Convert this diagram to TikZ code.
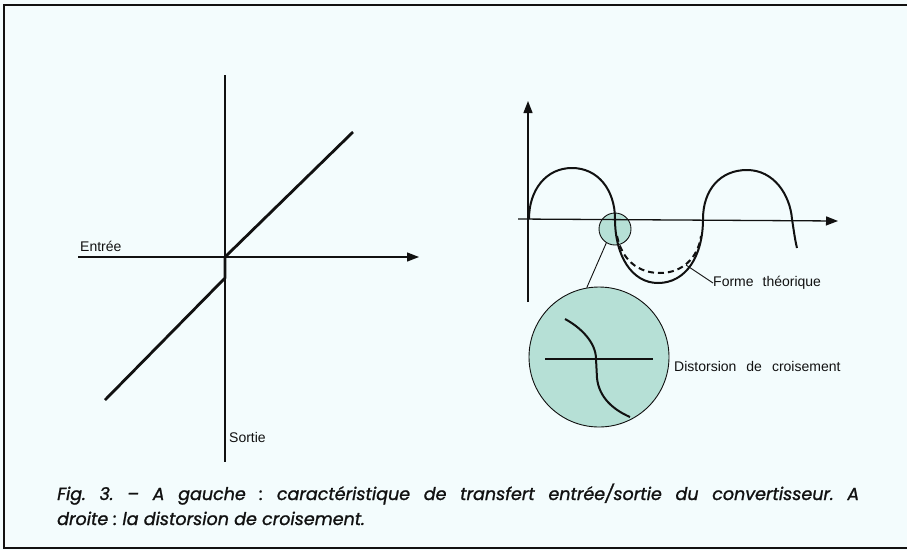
\documentclass[tikz,border=0pt]{standalone}
\usepackage{fontspec}
\setmainfont{Liberation Sans}
\newfontfamily\capfont[FakeBold=1.2]{Poppins}
\usetikzlibrary{arrows.meta}
\definecolor{bg}{HTML}{F3FCFD}
\definecolor{lens}{HTML}{B6E0D6}
\definecolor{ink}{HTML}{111111}
\frenchspacing
\begin{document}
\begin{tikzpicture}[x=1pt,y=-1pt,
  axis/.style={line width=1.3pt, draw=ink},
  arr/.style={-{Triangle[length=12pt,width=9pt]}},
  heavy/.style={line width=2.8pt, draw=ink, line join=round},
  wave/.style={line width=2pt, draw=ink},
  thin/.style={line width=0.9pt, draw=ink},
  lab/.style={font=\fontsize{14}{16}\selectfont, inner sep=0pt, text=ink},
  lensnode/.style={circle, draw=ink, fill=lens, line width=0.9pt, inner sep=0pt},
  capt/.style={font=\capfont\itshape\fontsize{17.5}{21}\selectfont, inner sep=0pt, anchor=base west, text=ink}
]
\fill[bg] (0,0) rectangle (907,550);
\useasboundingbox (0,0) rectangle (907,550);
% frame
\draw[line width=2pt, draw=ink] (907,5) -- (4,5) -- (4,548) -- (907,548);

% ---------- left diagram ----------
\coordinate (vtop) at (225,75);
\coordinate (vbot) at (225,462);
\coordinate (hl) at (78,257);
\coordinate (hr) at (419,257);
\draw[axis, line width=1.1pt] (vtop) -- (vbot);
\draw[axis, arr] (hl) -- (hr);
\coordinate (t1) at (105,400);
\coordinate (t2) at (225,278);
\coordinate (t3) at (225,257);
\coordinate (t4) at (353,132);
\draw[heavy] (t1) -- (t2) -- (t3) -- (t4);
\node[lab, anchor=base west] (entree) at (80,251) {Entrée};
\node[lab, anchor=base west] (sortie) at (229,442) {Sortie};

% ---------- right diagram ----------
\node[lensnode, minimum size=32pt] (spot) at (615,229) {};
\node[lensnode, minimum size=140pt] (mag) at (599,357) {};
\draw[thin] (spot.238) -- (mag.100);

\coordinate (ybot) at (528,302);
\coordinate (ytop) at (528,101);
\coordinate (xl) at (518,219);
\coordinate (xr) at (838,221);
\draw[axis, arr] (ybot) -- (ytop);
\draw[axis, arr] (xl) -- (xr);

% actual waveform
\draw[wave] (529,219) .. controls (529,190) and (546,168) .. (572,168)
  .. controls (598,168) and (615,190) .. (615,219)
  .. controls (615,256) and (632,283) .. (658,283)
  .. controls (686,283) and (703,256) .. (703,219)
  .. controls (703,190) and (720,170) .. (747,170)
  .. controls (774,170) and (790,195) .. (792,219)
  .. controls (794,232) and (795,240) .. (797,248);
% theoretical form
\draw[wave, dash pattern=on 6pt off 4pt] (617,236) .. controls (622,260) and (638,273) .. (660,273)
  .. controls (682,273) and (698,258) .. (701,236);

\node[lab, anchor=west] (forme) at (713,283) {Forme\hspace{9pt}théorique};
\coordinate (fpt) at (686,265);
\draw[thin] (forme.west) -- (fpt);

% magnified detail
\coordinate (ml) at (545,359);
\coordinate (mr) at (653,359);
\draw[thin, line width=1.3pt] (ml) -- (mr);
\draw[wave] (565,319) .. controls (580,327) and (596,342) .. (596,359)
  -- (597,378) .. controls (599,398) and (614,410) .. (630,417);

\node[lab, anchor=west] (dist) at (674,366) {Distorsion\hspace{10pt}de\hspace{10pt}croisement};

% ---------- caption ----------
\node[capt] (cap1) at (57,500) {\makebox[802pt][s]{Fig. 3. – A gauche : caractéristique de transfert entrée/sortie du convertisseur. A}};
\node[capt] (cap2) at (57,525) {droite : la distorsion de croisement.};
\end{tikzpicture}
\end{document}
